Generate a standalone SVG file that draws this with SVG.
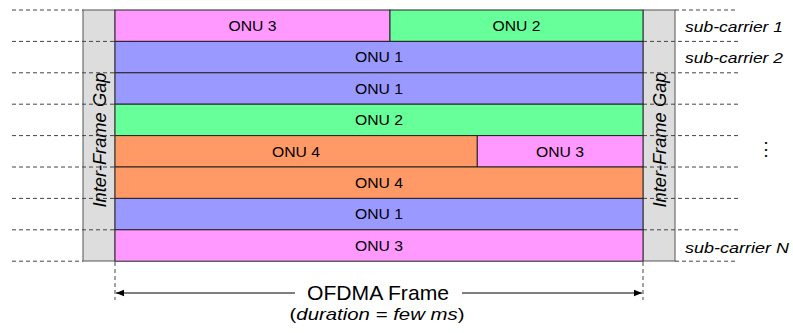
<svg xmlns="http://www.w3.org/2000/svg" width="793" height="333" viewBox="0 0 793 333">
<defs>
<style>
text{font-family:"Liberation Sans",Arial,sans-serif;fill:#000}
.onu{font-size:14.5px;text-anchor:middle}
.cell{stroke:#222;stroke-width:1}
.pink{fill:#FF99FF}.green{fill:#66FF99}.blue{fill:#9999FF}.orange{fill:#FF9966}
.dash{stroke:#444;stroke-width:1;stroke-dasharray:4,3;fill:none}
.lbl{font-size:14.5px;font-style:italic}
.gapt{font-size:18px;font-style:italic;text-anchor:middle}
.gap{fill:#DDDDDD;stroke:#555;stroke-width:1}
</style>
<marker id="ah" viewBox="0 0 10 10" refX="10" refY="5" markerWidth="9" markerHeight="8" orient="auto-start-reverse" markerUnits="userSpaceOnUse"><path d="M0,1 L10,5 L0,9 Z" fill="#000"/></marker>
</defs>
<g id="gap-left"><rect class="gap" x="83" y="10" width="32" height="251"/><text class="gapt" transform="translate(106,140) rotate(-90)" textLength="135" lengthAdjust="spacingAndGlyphs">Inter-Frame Gap</text></g>
<g id="gap-right"><rect class="gap" x="643" y="10" width="32" height="251"/><text class="gapt" transform="translate(666,140) rotate(-90)" textLength="135" lengthAdjust="spacingAndGlyphs">Inter-Frame Gap</text></g>
<g id="guides">
<path class="dash" d="M12,10H83M12,41.4H115M12,72.8H115M12,104.2H115M12,135.6H115M12,167H115M12,198.4H115M12,229.8H115M12,261.2H83"/>
<path class="dash" d="M675,10H738M643,41.4H738M643,72.8H738M643,104.2H738M643,135.6H738M643,167H738M643,198.4H738M643,229.8H738M675,261.2H738"/>
<path class="dash" d="M115,262V300M643,262V300"/>
</g>
<g id="row1"><rect class="cell pink" x="115" y="10" width="275" height="31.4"/><text class="onu" x="252.5" y="31" textLength="48" lengthAdjust="spacingAndGlyphs">ONU 3</text><rect class="cell green" x="390" y="10" width="253" height="31.4"/><text class="onu" x="516.5" y="31" textLength="48" lengthAdjust="spacingAndGlyphs">ONU 2</text></g>
<g id="row2"><rect class="cell blue" x="115" y="41.4" width="528" height="31.4"/><text class="onu" x="379" y="62.4" textLength="48" lengthAdjust="spacingAndGlyphs">ONU 1</text></g>
<g id="row3"><rect class="cell blue" x="115" y="72.8" width="528" height="31.4"/><text class="onu" x="379" y="93.8" textLength="48" lengthAdjust="spacingAndGlyphs">ONU 1</text></g>
<g id="row4"><rect class="cell green" x="115" y="104.2" width="528" height="31.4"/><text class="onu" x="379" y="125.2" textLength="48" lengthAdjust="spacingAndGlyphs">ONU 2</text></g>
<g id="row5"><rect class="cell orange" x="115" y="135.6" width="362.3" height="31.4"/><text class="onu" x="296" y="156.6" textLength="48" lengthAdjust="spacingAndGlyphs">ONU 4</text><rect class="cell pink" x="477.3" y="135.6" width="165.7" height="31.4"/><text class="onu" x="560" y="156.6" textLength="48" lengthAdjust="spacingAndGlyphs">ONU 3</text></g>
<g id="row6"><rect class="cell orange" x="115" y="167" width="528" height="31.4"/><text class="onu" x="379" y="188" textLength="48" lengthAdjust="spacingAndGlyphs">ONU 4</text></g>
<g id="row7"><rect class="cell blue" x="115" y="198.4" width="528" height="31.4"/><text class="onu" x="379" y="219.4" textLength="48" lengthAdjust="spacingAndGlyphs">ONU 1</text></g>
<g id="row8"><rect class="cell pink" x="115" y="229.8" width="528" height="31.4"/><text class="onu" x="379" y="250.8" textLength="48" lengthAdjust="spacingAndGlyphs">ONU 3</text></g>
<g id="labels">
<text class="lbl" x="685" y="32" textLength="98" lengthAdjust="spacingAndGlyphs">sub-carrier 1</text>
<text class="lbl" x="685" y="63" textLength="98" lengthAdjust="spacingAndGlyphs">sub-carrier 2</text>
<text class="lbl" x="685" y="253" textLength="104" lengthAdjust="spacingAndGlyphs">sub-carrier N</text>
<text x="766" y="155" font-size="18" text-anchor="middle">⋮</text>
</g>
<g id="connectors">
<path d="M295,293H116" stroke="#000" stroke-width="1.2" marker-end="url(#ah)"/>
<path d="M462,293H642" stroke="#000" stroke-width="1.2" marker-end="url(#ah)"/>
</g>
<g id="caption">
<text x="378" y="300" font-size="21" text-anchor="middle" textLength="142" lengthAdjust="spacingAndGlyphs">OFDMA Frame</text>
<text x="377" y="320" font-size="17" text-anchor="middle" textLength="175" lengthAdjust="spacingAndGlyphs">(<tspan font-style="italic">duration = few ms</tspan>)</text>
</g>
</svg>
